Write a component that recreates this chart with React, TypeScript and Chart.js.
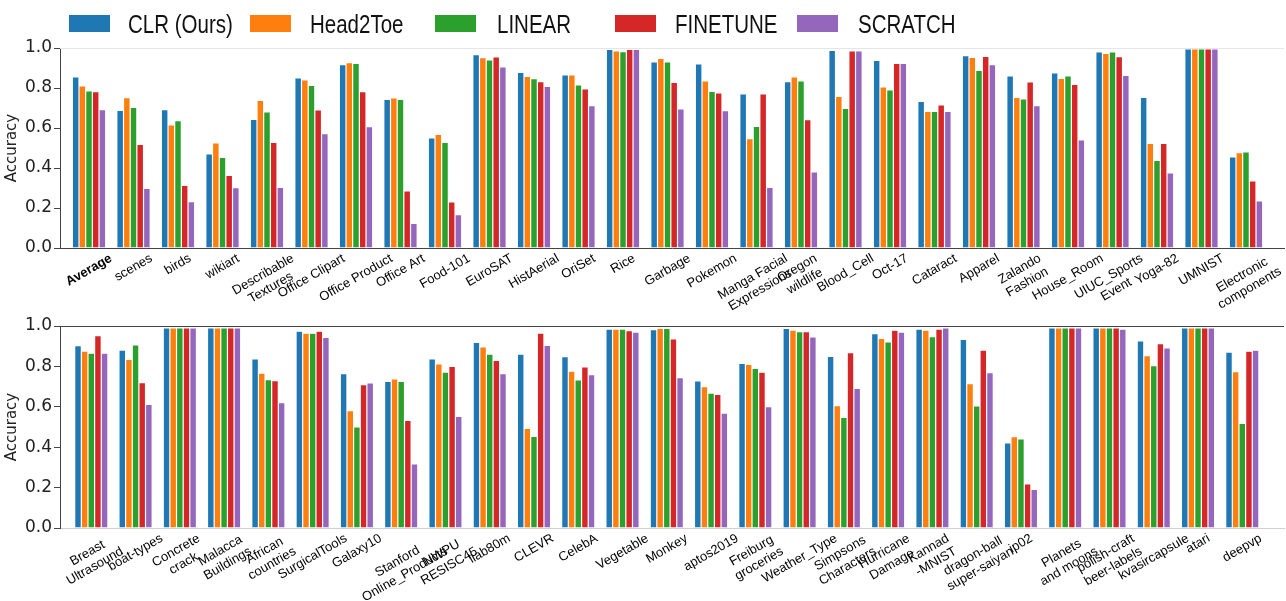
import React, { useEffect, useRef } from 'react';
import { Chart, registerables } from 'chart.js';

Chart.register(...registerables);

const seriesNames = ['CLR (Ours)', 'Head2Toe', 'LINEAR', 'FINETUNE', 'SCRATCH'];
const seriesColors = ['#1f77b4', '#ff7f0e', '#2ca02c', '#d62728', '#9467bd'];

const yTickValues = [0, 0.2, 0.4, 0.6, 0.8, 1.0];

const topCategories = [
  'Average', 'scenes', 'birds', 'wikiart', 'Describable\nTextures', 'Office Clipart',
  'Office Product', 'Office Art', 'Food-101', 'EuroSAT', 'HistAerial', 'OriSet', 'Rice',
  'Garbage', 'Pokemon', 'Manga Facial\nExpressions', 'Oregon\nwildlife', 'Blood_Cell',
  'Oct-17', 'Cataract', 'Apparel', 'Zalando\nFashion', 'House_Room', 'UIUC_Sports\nEvent',
  'Yoga-82', 'UMNIST', 'Electronic\ncomponents',
];
const topClr = [0.855, 0.688, 0.692, 0.47, 0.643, 0.85, 0.917, 0.743, 0.55, 0.967, 0.878, 0.865, 0.993, 0.93, 0.92, 0.77, 0.832, 0.988, 0.938, 0.733, 0.962, 0.86, 0.875, 0.98, 0.753, 0.995, 0.455];
const topHead2Toe = [0.81, 0.752, 0.615, 0.525, 0.738, 0.84, 0.927, 0.75, 0.568, 0.952, 0.858, 0.865, 0.985, 0.948, 0.835, 0.547, 0.855, 0.758, 0.805, 0.683, 0.953, 0.753, 0.848, 0.973, 0.523, 0.995, 0.477];
const topLinear = [0.785, 0.703, 0.637, 0.453, 0.68, 0.813, 0.923, 0.743, 0.528, 0.94, 0.847, 0.815, 0.982, 0.93, 0.783, 0.608, 0.835, 0.698, 0.79, 0.683, 0.888, 0.745, 0.86, 0.98, 0.438, 0.995, 0.48];
const topFinetune = [0.782, 0.518, 0.313, 0.363, 0.528, 0.69, 0.782, 0.285, 0.23, 0.955, 0.832, 0.795, 0.993, 0.828, 0.775, 0.77, 0.642, 0.985, 0.923, 0.715, 0.958, 0.83, 0.818, 0.957, 0.523, 0.995, 0.335];
const topScratch = [0.692, 0.298, 0.232, 0.302, 0.303, 0.572, 0.607, 0.123, 0.167, 0.905, 0.808, 0.712, 0.993, 0.695, 0.687, 0.303, 0.38, 0.985, 0.923, 0.683, 0.917, 0.712, 0.54, 0.863, 0.375, 0.995, 0.235];

const bottomCategories = [
  'Breast\nUltrasound', 'boat-types', 'Concrete\ncrack', 'Malacca\nBuildings', 'African\ncountries',
  'SurgicalTools', 'Galaxy10', 'Stanford\nOnline_Products', 'NWPU\nRESISC45', 'llab80m', 'CLEVR',
  'CelebA', 'Vegetable', 'Monkey', 'aptos2019', 'Freiburg\ngroceries', 'Weather_Type',
  'Simpsons\nCharacters', 'Hurricane\nDamage', 'Kannad\n-MNIST', 'dragon-ball\nsuper-saiyan', 'ip02',
  'Planets\nand moons', 'polish-craft\nbeer-labels', 'kvasircapsule', 'atari', 'deepvp',
];
const bottomClr = [0.903, 0.881, 0.99, 0.99, 0.837, 0.974, 0.764, 0.726, 0.837, 0.919, 0.861, 0.848, 0.985, 0.982, 0.728, 0.815, 0.988, 0.85, 0.962, 0.985, 0.934, 0.421, 0.99, 0.99, 0.926, 0.99, 0.871];
const bottomHead2Toe = [0.876, 0.835, 0.99, 0.99, 0.767, 0.964, 0.581, 0.738, 0.812, 0.896, 0.493, 0.776, 0.985, 0.988, 0.7, 0.81, 0.98, 0.606, 0.939, 0.979, 0.715, 0.452, 0.99, 0.99, 0.853, 0.99, 0.774];
const bottomLinear = [0.865, 0.906, 0.99, 0.99, 0.734, 0.964, 0.5, 0.726, 0.772, 0.861, 0.454, 0.733, 0.985, 0.988, 0.668, 0.79, 0.972, 0.548, 0.921, 0.947, 0.604, 0.441, 0.99, 0.99, 0.804, 0.99, 0.518];
const bottomFinetune = [0.952, 0.72, 0.99, 0.99, 0.729, 0.974, 0.71, 0.533, 0.8, 0.83, 0.965, 0.797, 0.977, 0.936, 0.662, 0.771, 0.972, 0.868, 0.979, 0.985, 0.88, 0.218, 0.99, 0.99, 0.913, 0.99, 0.875];
const bottomScratch = [0.865, 0.612, 0.99, 0.99, 0.62, 0.944, 0.718, 0.317, 0.553, 0.764, 0.904, 0.759, 0.97, 0.744, 0.569, 0.601, 0.946, 0.691, 0.97, 0.99, 0.769, 0.191, 0.99, 0.985, 0.891, 0.99, 0.88];

const topSeries = [topClr, topHead2Toe, topLinear, topFinetune, topScratch];
const bottomSeries = [bottomClr, bottomHead2Toe, bottomLinear, bottomFinetune, bottomScratch];

const LABEL_FONT = '"Liberation Sans", Arial, sans-serif';
const AXIS_FONT = '"DejaVu Sans", sans-serif';

function makeLabelPlugin(cats: string[], boldFirst: boolean, topLineColor: string) {
  return {
    id: 'rotLabels',
    afterDraw(chart: any) {
      const { ctx, chartArea } = chart;
      const xs = chart.scales.x;
      ctx.save();
      ctx.strokeStyle = topLineColor;
      ctx.lineWidth = 1;
      ctx.beginPath();
      ctx.moveTo(chartArea.left, Math.round(chartArea.top) + 0.5);
      ctx.lineTo(chartArea.right, Math.round(chartArea.top) + 0.5);
      ctx.stroke();
      const theta = (30 * Math.PI) / 180;
      const fs = 13;
      const lh = 15;
      cats.forEach((c, i) => {
        const lines = c.split('\n');
        ctx.font = (boldFirst && i === 0 ? 'bold ' : '') + fs + 'px ' + LABEL_FONT;
        const w = Math.max(...lines.map((l) => ctx.measureText(l).width));
        const h = lines.length * lh;
        const H = w * Math.sin(theta) + h * Math.cos(theta);
        const cx = xs.getPixelForValue(i);
        const cy = chartArea.bottom + 3 + H / 2;
        ctx.save();
        ctx.translate(cx, cy);
        ctx.rotate(-theta);
        ctx.textAlign = 'center';
        ctx.textBaseline = 'middle';
        ctx.fillStyle = '#000';
        lines.forEach((l, k) => ctx.fillText(l, 0, (k - (lines.length - 1) / 2) * lh));
        ctx.restore();
      });
      ctx.restore();
    },
  };
}

function buildConfig(
  cats: string[],
  series: number[][],
  xMin: number,
  xMax: number,
  padTop: number,
  xHeight: number,
  xBorderColor: string,
  topLineColor: string,
  boldFirst: boolean,
): any {
  return {
    type: 'bar',
    data: {
      datasets: seriesNames.map((name, s) => ({
        label: name,
        data: series[s].map((v, i) => ({ x: i, y: v })),
        backgroundColor: seriesColors[s],
        borderColor: 'rgba(255,255,255,0.55)',
        borderWidth: 0.6,
        categoryPercentage: 0.75,
        barPercentage: 1.0,
      })),
    },
    options: {
      responsive: false,
      animation: false,
      devicePixelRatio: 1,
      layout: { padding: { top: padTop, right: 2, left: 0, bottom: 0 } },
      plugins: { legend: { display: false }, tooltip: { enabled: false } },
      scales: {
        x: {
          type: 'linear',
          min: xMin,
          max: xMax,
          offset: false,
          grid: { display: false, drawTicks: false, offset: false },
          border: { display: true, color: xBorderColor, width: 1 },
          ticks: { display: false },
          afterBuildTicks: (s: any) => {
            s.ticks = cats.map((_, i) => ({ value: i }));
          },
          afterFit: (s: any) => {
            s.height = xHeight;
          },
        },
        y: {
          min: 0,
          max: 1,
          afterBuildTicks: (s: any) => {
            s.ticks = yTickValues.map((v) => ({ value: v }));
          },
          ticks: {
            font: { family: AXIS_FONT, size: 17 },
            color: '#222',
            padding: 2,
            callback: (v: number) => Number(v).toFixed(1),
          },
          grid: { drawOnChartArea: false, drawTicks: true, tickLength: 6, color: '#444' },
          border: { display: true, color: '#444', width: 1 },
          title: {
            display: true,
            text: 'Accuracy',
            font: { family: AXIS_FONT, size: 15 },
            color: '#222',
            padding: { top: 3, bottom: 0 },
          },
          afterFit: (s: any) => {
            s.width = 60;
          },
        },
      },
    },
    plugins: [makeLabelPlugin(cats, boldFirst, topLineColor)],
  };
}

const legendItems = [
  { patchX: 69, textX: 128 },
  { patchX: 250, textX: 310 },
  { patchX: 435, textX: 497 },
  { patchX: 615, textX: 675 },
  { patchX: 797, textX: 858 },
];

export default function App() {
  const topRef = useRef<HTMLCanvasElement>(null);
  const botRef = useRef<HTMLCanvasElement>(null);

  useEffect(() => {
    const c1 = new Chart(
      topRef.current as HTMLCanvasElement,
      buildConfig(topCategories, topSeries, -0.652, 26.854, 48, 64, '#444', '#e6e6e6', true),
    );
    const c2 = new Chart(
      botRef.current as HTMLCanvasElement,
      buildConfig(bottomCategories, bottomSeries, -0.707, 26.942, 14, 73, '#d0d0d0', '#444', false),
    );
    return () => {
      c1.destroy();
      c2.destroy();
    };
  }, []);

  return (
    <div
      style={{
        position: 'absolute',
        left: 0,
        top: 0,
        width: 1286,
        height: 601,
        background: '#fff',
        overflow: 'hidden',
      }}
    >
      <canvas ref={topRef} width={1286} height={312} style={{ position: 'absolute', left: 0, top: 0 }} />
      <canvas ref={botRef} width={1286} height={289} style={{ position: 'absolute', left: 0, top: 312 }} />
      {seriesNames.map((name, s) => (
        <React.Fragment key={name}>
          <div
            style={{
              position: 'absolute',
              left: legendItems[s].patchX,
              top: 15,
              width: 41,
              height: 17,
              background: seriesColors[s],
            }}
          />
          <div
            style={{
              position: 'absolute',
              left: legendItems[s].textX,
              top: 11,
              fontFamily: '"Liberation Sans", Arial, sans-serif',
              fontSize: 25,
              lineHeight: '26px',
              color: '#111',
              whiteSpace: 'nowrap',
              transform: 'scaleX(0.82)',
              transformOrigin: 'left top',
            }}
          >
            {name}
          </div>
        </React.Fragment>
      ))}
    </div>
  );
}
